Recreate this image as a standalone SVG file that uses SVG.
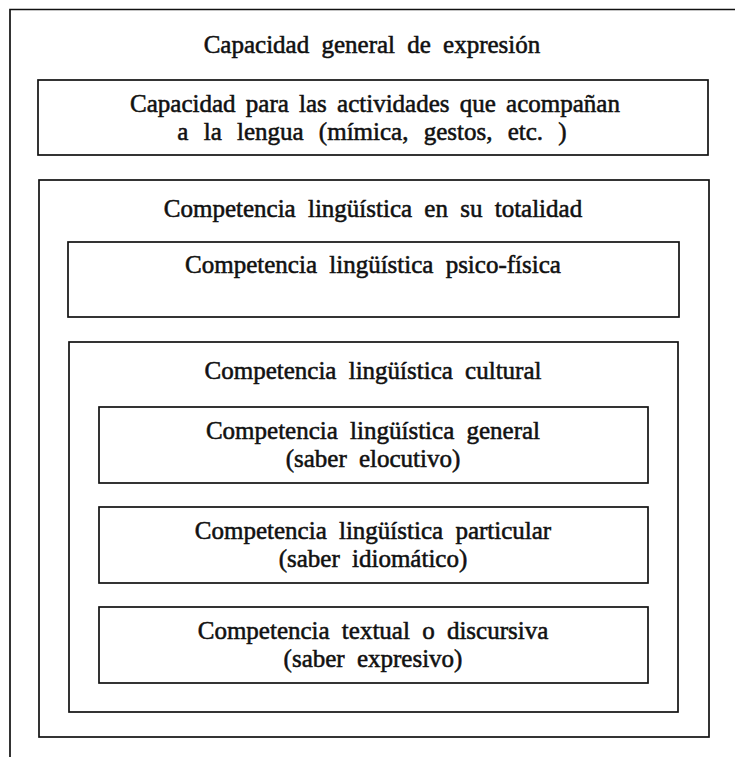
<svg xmlns="http://www.w3.org/2000/svg" width="735" height="757" viewBox="0 0 735 757">
<style>
.bx{fill:none;stroke:#111;stroke-width:1.7}
.fr{fill:none;stroke:#111;stroke-width:1.7}
.t{font-family:"Liberation Serif","Times New Roman",serif;font-size:25px;fill:#111;stroke:#111;stroke-width:0.55;text-anchor:middle;word-spacing:6px}
</style>
<rect width="735" height="757" fill="#fff"/>
<g id="frame">
<path class="fr" d="M10 757 V9.5 H735"/>
<text class="t" x="372" y="53">Capacidad general de expresión</text>
</g>
<g id="node-acompanan">
<rect class="bx" x="38" y="80" width="670" height="75"/>
<text class="t" x="375" y="112" style="word-spacing:4px">Capacidad para las actividades que acompañan</text>
<text class="t" x="372" y="140" style="word-spacing:9px">a la lengua (mímica, gestos, etc. )</text>
</g>
<g id="node-totalidad">
<rect class="bx" x="39" y="180" width="670" height="557"/>
<text class="t" x="373" y="217">Competencia lingüística en su totalidad</text>
</g>
<g id="node-psicofisica">
<rect class="bx" x="68" y="242" width="611" height="75"/>
<text class="t" x="373" y="273">Competencia lingüística psico-física</text>
</g>
<g id="node-cultural">
<rect class="bx" x="69" y="342" width="609" height="370"/>
<text class="t" x="373" y="379">Competencia lingüística cultural</text>
</g>
<g id="node-general">
<rect class="bx" x="99" y="407" width="549" height="76"/>
<text class="t" x="373" y="439">Competencia lingüística general</text>
<text class="t" x="373" y="467">(saber elocutivo)</text>
</g>
<g id="node-particular">
<rect class="bx" x="99" y="507" width="549" height="76"/>
<text class="t" x="373" y="539">Competencia lingüística particular</text>
<text class="t" x="373" y="567">(saber idiomático)</text>
</g>
<g id="node-textual">
<rect class="bx" x="99" y="607" width="549" height="76"/>
<text class="t" x="373" y="639">Competencia textual o discursiva</text>
<text class="t" x="373" y="667">(saber expresivo)</text>
</g>
<g id="connectors"></g>
</svg>
